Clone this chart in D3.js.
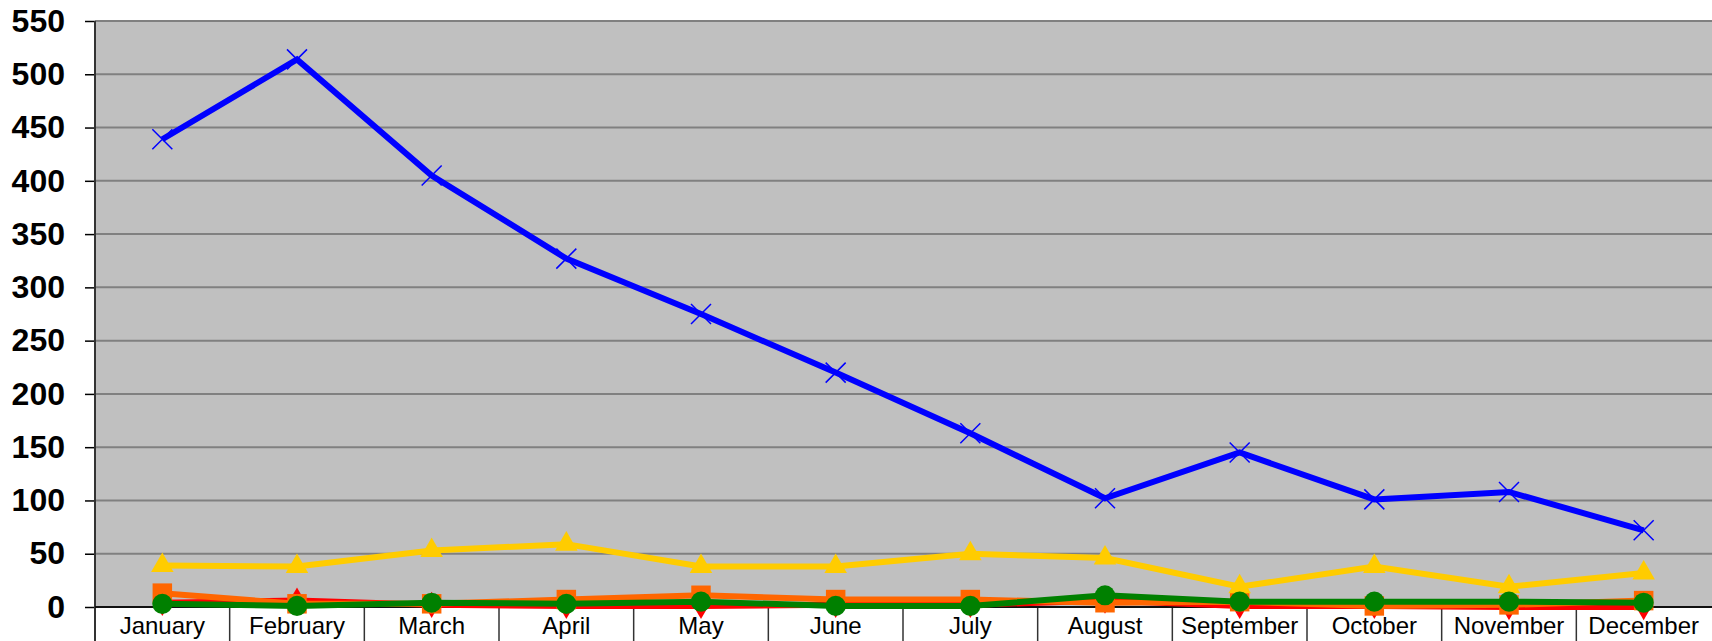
<!DOCTYPE html>
<html>
<head>
<meta charset="utf-8">
<script src="https://cdn.jsdelivr.net/npm/d3@7"></script>
<style>
  body { margin: 0; background: #fff; }
  svg { display: block; font-family: "Liberation Sans", Arial, sans-serif; }
</style>
</head>
<body>
<div id="chart"></div>
<script>
// data
var months = ["January", "February", "March", "April", "May", "June",
              "July", "August", "September", "October", "November", "December"];
var blueValues   = [439, 514, 405, 327, 275, 220, 163, 102, 145, 101, 108, 72];
var yellowValues = [39, 38, 53, 59, 38, 38, 50, 46, 19, 38, 19, 32];
var orangeValues = [13, 3, 3, 7, 11, 7, 7, 4, 5, 1, 2, 6];
var redValues    = [4, 6, 2, 1, 1, 2, 2, 6, 1, 1, 0, 0];
var greenValues  = [3, 1, 4, 3, 5, 1, 1, 11, 5, 5, 5, 4];
var yTicks = [0, 50, 100, 150, 200, 250, 300, 350, 400, 450, 500, 550];

// dimensions of the plot area
var W = 1712, H = 641;
var plot = {left: 95, right: 1711, top: 21, bottom: 607};

var svg = d3.select("#chart")
  .append("svg")
    .attr("width", W)
    .attr("height", H);

var x = d3.scaleBand()
  .domain(months)
  .range([plot.left, plot.right])
  .padding(0);

var y = d3.scaleLinear()
  .domain([0, 550])
  .range([plot.bottom, plot.top]);

function cx(i) { return x(months[i]) + x.bandwidth() / 2; }

// plot background
svg.append("rect")
  .attr("x", plot.left).attr("y", plot.top)
  .attr("width", W - plot.left).attr("height", plot.bottom - plot.top)
  .attr("fill", "#c0c0c0");

// gridlines
svg.append("g").selectAll("line")
  .data(yTicks.filter(function(d) { return d > 0; }))
  .enter().append("line")
    .attr("x1", plot.left).attr("x2", W)
    .attr("y1", function(d) { return y(d); })
    .attr("y2", function(d) { return y(d); })
    .attr("stroke", "#808080")
    .attr("stroke-width", 2);

// y axis
var gy = svg.append("g")
  .attr("transform", "translate(" + plot.left + ",0)")
  .call(d3.axisLeft(y).tickValues(yTicks).tickSize(10).tickPadding(20));
gy.select(".domain").remove();
gy.selectAll(".tick line").attr("stroke", "#000").attr("stroke-width", 1.5);
gy.selectAll(".tick text")
  .attr("fill", "#000")
  .style("font-size", "32px")
  .style("font-weight", "bold")
  .style("font-family", "'Liberation Sans', Arial, sans-serif");

// category cells under the plot
svg.append("g").selectAll("line")
  .data(months.slice(1))
  .enter().append("line")
    .attr("x1", function(d) { return x(d); })
    .attr("x2", function(d) { return x(d); })
    .attr("y1", plot.bottom).attr("y2", H)
    .attr("stroke", "#333")
    .attr("stroke-width", 1.5);

svg.append("g").selectAll("text")
  .data(months)
  .enter().append("text")
    .attr("x", function(d) { return x(d) + x.bandwidth() / 2; })
    .attr("y", 634)
    .attr("text-anchor", "middle")
    .style("font-size", "24px")
    .attr("fill", "#000")
    .text(function(d) { return d; });

// axis lines
svg.append("line")
  .attr("x1", plot.left).attr("x2", plot.left).attr("y1", plot.top).attr("y2", H)
  .attr("stroke", "#333").attr("stroke-width", 2);
svg.append("line")
  .attr("x1", plot.left).attr("x2", W).attr("y1", plot.bottom).attr("y2", plot.bottom)
  .attr("stroke", "#111").attr("stroke-width", 2);

// series
var line = d3.line()
  .x(function(d, i) { return cx(i); })
  .y(function(d) { return y(d); });

function drawSeries(values, color, width, marker) {
  var g = svg.append("g");
  g.append("path")
    .datum(values)
    .attr("d", line)
    .attr("fill", "none")
    .attr("stroke", color)
    .attr("stroke-width", width);
  var m = g.selectAll("g")
    .data(values)
    .enter().append("g")
      .attr("transform", function(d, i) { return "translate(" + cx(i) + "," + y(d) + ")"; });
  if (marker === "x") {
    m.append("path")
      .attr("d", "M-10,-10L10,10M-10,10L10,-10")
      .attr("stroke", color)
      .attr("stroke-width", 1.5)
      .attr("fill", "none");
  } else {
    var sym = {
      square: d3.symbolSquare,
      triangle: d3.symbolTriangle,
      diamond: d3.symbolDiamond,
      circle: d3.symbolCircle
    }[marker];
    var size = {square: 380, triangle: 220, diamond: 200, circle: 320}[marker];
    m.append("path")
      .attr("d", d3.symbol().type(sym).size(size))
      .attr("fill", color);
  }
}

drawSeries(redValues, "#ff0000", 6, "diamond");
drawSeries(orangeValues, "#ff6600", 6, "square");
drawSeries(yellowValues, "#ffcc00", 6, "triangle");
drawSeries(blueValues, "#0000ff", 6, "x");
drawSeries(greenValues, "#008000", 6, "circle");
</script>
</body>
</html>
